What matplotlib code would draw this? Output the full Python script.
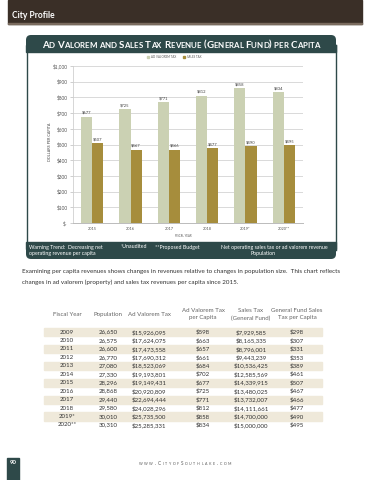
import matplotlib
matplotlib.use('Agg')
import matplotlib.pyplot as plt
from matplotlib.patches import Rectangle, FancyBboxPatch
import numpy as np

# ---------------- data ----------------
years = ['2015', '2016', '2017', '2018', '2019*', '2020**']
ad_valorem = [677, 725, 771, 812, 858, 834]
sales_tax = [507, 467, 466, 477, 490, 495]
yticks = [0, 100, 200, 300, 400, 500, 600, 700, 800, 900, 1000]
ytick_labels = ['$-', '$100', '$200', '$300', '$400', '$500', '$600', '$700', '$800', '$900', '$1,000']

table_headers = [['Fiscal Year'], ['Population'], ['Ad Valorem Tax'],
                 ['Ad Valorem Tax', 'per Capita'], ['Sales Tax', '(General Fund)'],
                 ['General Fund Sales', 'Tax per Capita']]
tbl_year = ['2009', '2010', '2011', '2012', '2013', '2014', '2015', '2016', '2017', '2018', '2019*', '2020**']
tbl_population = ['26,650', '26,575', '26,600', '26,770', '27,080', '27,330', '28,296', '28,868', '29,440', '29,580', '30,010', '30,310']
tbl_adval = ['$15,926,095', '$17,624,075', '$17,473,558', '$17,690,312', '$18,523,069', '$19,193,801',
             '$19,149,431', '$20,920,809', '$22,694,444', '$24,028,296', '$25,735,500', '$25,285,331']
tbl_adval_pc = ['$598', '$663', '$657', '$661', '$684', '$702', '$677', '$725', '$771', '$812', '$858', '$834']
tbl_sales = ['$7,929,585', '$8,165,335', '$8,796,001', '$9,443,239', '$10,536,425', '$12,585,569',
             '$14,339,915', '$13,480,025', '$13,732,007', '$14,111,661', '$14,700,000', '$15,000,000']
tbl_sales_pc = ['$298', '$307', '$331', '$353', '$389', '$461', '$507', '$467', '$466', '$477', '$490', '$495']

# ---------------- style ----------------
FONT = ['Lato', 'DejaVu Sans']
plt.rcParams['font.family'] = FONT
TEAL = '#2e4949'
BROWN = '#3a2f27'
SAGE = '#cbd1b3'
GOLD = '#a68d3c'

fig = plt.figure(figsize=(3.7, 4.8), dpi=100)
ov = fig.add_axes([0, 0, 1, 1])
ov.set_xlim(0, 370)
ov.set_ylim(480, 0)
ov.axis('off')
renderer = fig.canvas.get_renderer()


def text_width(s, size, weight='normal'):
    if s.strip() == '':
        return (text_width('x' + s + 'x', size, weight) - text_width('xx', size, weight))
    t = ov.text(0, 0, s, fontsize=size, fontweight=weight)
    w = t.get_window_extent(renderer).width
    t.remove()
    return w


def fit_size(s, target, weight='normal'):
    return 10 * target / text_width(s, 10, weight)


def smallcaps(x, y, text, target_w, ratio=0.78, ha='center', color='k', weight='normal', tracking=0.0, zorder=5):
    chars = [(c.upper(), c.islower()) for c in text]
    def widths(big):
        return [text_width(c, big * ratio if low else big, weight) for c, low in chars]
    w = widths(10)
    big = 10 * (target_w - tracking * (len(chars) - 1)) / sum(w)
    w = widths(big)
    tot = sum(w) + tracking * (len(chars) - 1)
    if ha == 'center':
        cx = x - tot / 2
    elif ha == 'left':
        cx = x
    else:
        cx = x - tot
    for (c, low), wi in zip(chars, w):
        if c.strip():
            ov.text(cx, y, c, fontsize=big * ratio if low else big, fontweight=weight,
                    color=color, ha='left', va='baseline', zorder=zorder)
        cx += wi + tracking


# ---------------- page header ----------------
ov.add_patch(Rectangle((8, 0), 354, 24, color=BROWN, zorder=1))
ov.add_patch(Rectangle((8, 23), 354, 1, color='#7a6b5e', zorder=1))
ov.text(12, 18.5, 'City Profile', fontsize=fit_size('City Profile', 43, 'bold'), fontweight='bold',
        color='white', va='baseline', ha='left', zorder=2)

# ---------------- chart frame & banners ----------------
ov.add_patch(FancyBboxPatch((26, 35), 310, 17, boxstyle='round,pad=0,rounding_size=5',
                            facecolor=TEAL, edgecolor='none', zorder=2))
ov.add_patch(Rectangle((26, 45), 310, 7, color=TEAL, zorder=2))
ov.plot([26.5, 26.5], [45, 250], color=TEAL, lw=1.0, zorder=2)
ov.plot([335.5, 335.5], [45, 250], color=TEAL, lw=1.0, zorder=2)
ov.add_patch(FancyBboxPatch((26, 242), 310, 17, boxstyle='round,pad=0,rounding_size=5',
                            facecolor=TEAL, edgecolor='none', zorder=2))
ov.add_patch(Rectangle((26, 242), 310, 7, color=TEAL, zorder=2))

smallcaps(181, 47.5, 'Ad Valorem and Sales Tax Revenue (General Fund) per Capita', 277,
          ratio=0.8, color='white', weight='bold')

# legend
lgs = fit_size('AD VALOREM TAX', 25)
ov.add_patch(Rectangle((146.5, 55.5), 2.5, 2.5, color=SAGE, zorder=3))
ov.text(151, 57, 'AD VALOREM TAX', fontsize=lgs, color='#555555', ha='left', va='center', zorder=5)
ov.add_patch(Rectangle((182.5, 55.5), 2.5, 2.5, color=GOLD, zorder=3))
ov.text(187, 57, 'SALES TAX', fontsize=lgs, color='#555555', ha='left', va='center', zorder=5)

# footer banner text
bsz = fit_size('Warning Trend:  Decreasing net', 74)
btxt = dict(fontsize=bsz, color='white', va='center', zorder=5)
ov.text(29, 247, 'Warning Trend:  Decreasing net', ha='left', **btxt)
ov.text(29, 253.5, 'operating revenue per capita', ha='left', **btxt)
ov.text(121, 247, '*Unaudited', ha='left', **btxt)
ov.text(155, 247, '**Proposed Budget', ha='left', **btxt)
ov.text(274, 247, 'Net operating sales tax or ad valorem revenue', ha='center', **btxt)
ov.text(263, 253.5, 'Population', ha='center', **btxt)

# ---------------- bar chart ----------------
ax = fig.add_axes([73 / 370, 1 - 223 / 480, 230 / 370, 157 / 480], zorder=3)
ax.patch.set_alpha(0)
x = np.arange(len(years))
bw = 0.29
ax.bar(x - bw / 2, ad_valorem, bw, color=SAGE, zorder=3)
ax.bar(x + bw / 2, sales_tax, bw, color=GOLD, zorder=3)
lsz = fit_size('$677', 9.5)
for xi, v in zip(x, ad_valorem):
    ax.text(xi - bw / 2, v + 12, f'${v}', ha='center', va='bottom', fontsize=lsz, color='#444444')
for xi, v in zip(x, sales_tax):
    ax.text(xi + bw / 2, v + 12, f'${v}', ha='center', va='bottom', fontsize=lsz, color='#444444')
ax.set_xlim(-0.5, len(years) - 0.5)
ax.set_ylim(0, 1000)
ax.set_yticks(yticks)
ax.set_yticklabels(ytick_labels)
ax.set_xticks(x)
ax.set_xticklabels(years)
tsz = fit_size('$1,000', 15)
ax.tick_params(axis='y', length=2, width=0.5, color='#bbbbbb', labelsize=tsz, labelcolor='#555555', pad=2)
ax.tick_params(axis='x', length=0, labelsize=fit_size('2015', 9), labelcolor='#555555', pad=3)
ax.grid(axis='y', color='#d9d9d9', lw=0.7, zorder=0)
ax.set_axisbelow(True)
for s in ['top', 'right']:
    ax.spines[s].set_visible(False)
ax.spines['left'].set_color('#d0d0d0')
ax.spines['left'].set_linewidth(0.6)
ax.spines['bottom'].set_color('#bbbbbb')
ax.spines['bottom'].set_linewidth(0.7)

ov.text(183, 236, 'FISCAL YEAR', fontsize=fit_size('FISCAL YEAR', 16), color='#555555',
        ha='center', va='center', zorder=5)
ysz = fit_size('DOLLARS PER CAPITA', 40)
ov.text(50, 142, 'DOLLARS PER CAPITA', rotation=90, fontsize=ysz * 0.95, color='#444444',
        ha='center', va='center', zorder=5)

# ---------------- paragraph ----------------
line1 = ('Examining per capita revenues shows changes in revenues relative to changes in population size.  '
         'This chart reflects')
line2 = 'changes in ad valorem (property) and sales tax revenues per capita since 2015.'
psz = fit_size(line1, 315)
ov.text(22, 272, line1, fontsize=psz, color='#333333', va='center', ha='left')
ov.text(22, 282, line2, fontsize=psz, color='#333333', va='center', ha='left')

# ---------------- table ----------------
col_x = [67, 108, 149, 203, 251, 297]
tsz2 = fit_size('$15,926,095', 35)
for cx, hdr in zip(col_x, table_headers):
    if len(hdr) == 1:
        ov.text(cx, 314.5, hdr[0], fontsize=tsz2, color='#666666', ha='center', va='center')
    else:
        ov.text(cx, 311, hdr[0], fontsize=tsz2, color='#666666', ha='center', va='center')
        ov.text(cx, 318, hdr[1], fontsize=tsz2, color='#666666', ha='center', va='center')

row_y0, row_dy = 332, 8.45
cols = [tbl_year, tbl_population, tbl_adval, tbl_adval_pc, tbl_sales, tbl_sales_pc]
for i in range(len(tbl_year)):
    yy = row_y0 + i * row_dy
    if i % 2 == 0:
        ov.add_patch(Rectangle((44, yy - row_dy / 2 + 0.2), 278, row_dy - 0.4, color='#efe9da', zorder=1))
    for cx, col in zip(col_x, cols):
        ov.text(cx, yy, col[i], fontsize=tsz2, color='#333333', ha='center', va='center', zorder=3)

# ---------------- page footer ----------------
ov.add_patch(Rectangle((7, 458), 12, 22, color=TEAL, zorder=1))
ov.text(13, 463, '90', fontsize=fit_size('90', 7, 'bold'), fontweight='bold', color='white',
        ha='center', va='center', zorder=2)
smallcaps(185, 465, 'www.CityofSouthlake.com', 93, ratio=0.8, color='#555555', tracking=1.6)

fig.savefig('out.png', dpi=100)
